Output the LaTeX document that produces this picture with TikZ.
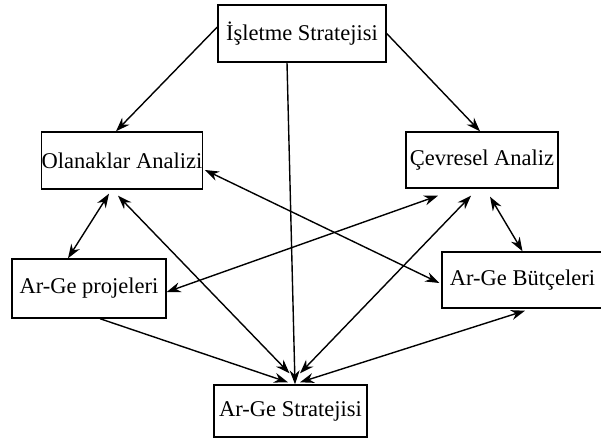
\documentclass[tikz,border=0pt]{standalone}
\usepackage{fontspec}
\setmainfont{Liberation Serif}
\usetikzlibrary{arrows.meta}
\begin{document}
\begin{tikzpicture}[x=1pt,y=-1pt,
  boxnode/.style={draw=black, line width=1.4pt, inner sep=0pt,
    font=\fontsize{22.5}{24}\selectfont, align=center},
  tip/.tip={Stealth[length=14pt,width=10pt]},
  link/.style={line width=1.4pt, -tip},
  duallink/.style={line width=1.4pt, tip-tip}]
  \useasboundingbox (0,0) rectangle (601,439);

  % strategy and analysis boxes
  \node[boxnode, minimum width=168pt, minimum height=57pt] (ist) at (302,33.5) {İşletme Stratejisi};
  \node[boxnode, minimum width=152pt, minimum height=57pt] (ola) at (122,160.5) {Olanaklar Analizi};
  \node[boxnode, minimum width=152pt, minimum height=56pt] (cev) at (482,160) {Çevresel Analiz};
  \node[boxnode, minimum width=154pt, minimum height=59pt] (proj) at (89,288.5) {Ar-Ge projeleri};
  \node[boxnode, minimum width=176pt, minimum height=56pt] (but) at (530,280) {\hspace*{-15pt}Ar-Ge Bütçeleri};
  \node[boxnode, minimum width=153pt, minimum height=52pt] (str) at (290.5,411) {Ar-Ge Stratejisi};

  % top-level strategy feeds both analyses and the R&D strategy
  \draw[link] ([yshift=6.5pt]ist.west) -- ([xshift=-6pt]ola.north);
  \draw[link] (ist.east) -- ([xshift=-2pt]cev.north);
  \draw[link] ([xshift=-15pt]ist.south) -- ([xshift=4.5pt]str.north);

  % mutual links
  \draw[duallink] ([shift={(-13pt,-4pt)}]ola.south) -- ([xshift=-21pt]proj.north);
  \draw[duallink] ([shift={(-4pt,-6pt)}]ola.south) -- ([shift={(-1pt,11pt)}]str.north);
  \draw[duallink] ([shift={(2pt,-9.5pt)}]ola.east) -- ([shift={(-2pt,-3pt)}]but.west);
  \draw[duallink] ([shift={(-44pt,-7pt)}]cev.south) -- ([shift={(0pt,-3.5pt)}]proj.east);
  \draw[duallink] ([shift={(-11pt,-7pt)}]cev.south) -- ([shift={(9.5pt,11pt)}]str.north);
  \draw[duallink] ([shift={(8pt,-8pt)}]cev.south) -- ([xshift=-7.5pt]but.north);
  \draw[duallink] ([shift={(9.5pt,2pt)}]str.north) -- ([shift={(-5pt,-2pt)}]but.south);

  % projects into the R&D strategy
  \draw[link] ([xshift=11pt]proj.south) -- ([shift={(-2.5pt,2pt)}]str.north);
\end{tikzpicture}
\end{document}
